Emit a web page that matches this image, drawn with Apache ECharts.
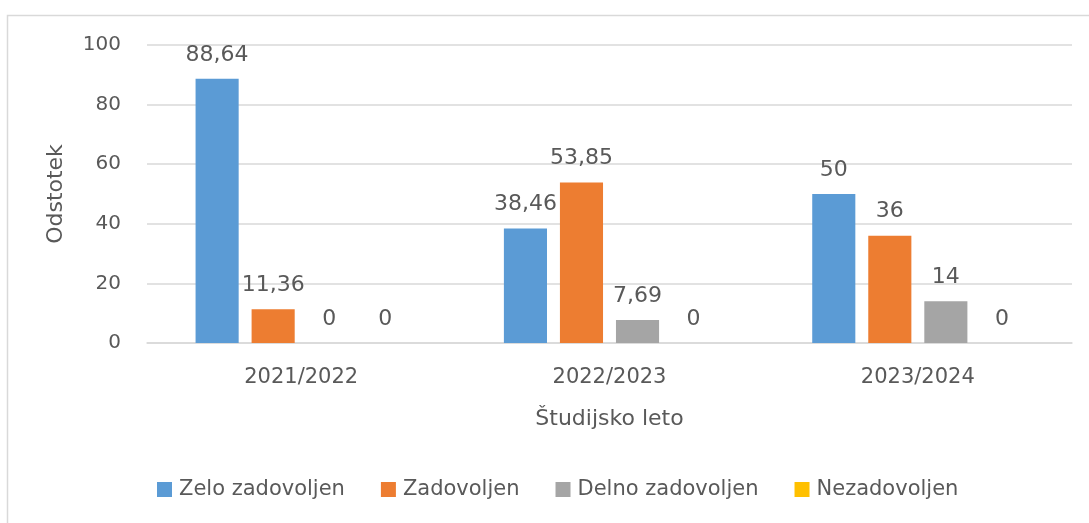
<!DOCTYPE html>
<html><head><meta charset="utf-8">
<script src="https://cdn.jsdelivr.net/npm/echarts@6/dist/echarts.min.js"></script>
<style>html,body{margin:0;padding:0;background:#fff}#c{width:1089px;height:523px}</style>
</head><body><div id="c"></div>
<script>
const categories = ['2021/2022', '2022/2023', '2023/2024'];
const seriesNames = ['Zelo zadovoljen', 'Zadovoljen', 'Delno zadovoljen', 'Nezadovoljen'];
const zeloZadovoljen = [88.64, 38.46, 50];
const zadovoljen = [11.36, 53.85, 36];
const delnoZadovoljen = [0, 7.69, 14];
const nezadovoljen = [0, 0, 0];
const yTicks = [0, 20, 40, 60, 80, 100];

const colors = ['#5B9BD5', '#ED7D31', '#A5A5A5', '#FFC000'];
const FONT = 'DejaVu Sans';
const TXT = '#595959';
const values = [zeloZadovoljen, zadovoljen, delnoZadovoljen, nezadovoljen];

const chart = echarts.init(document.getElementById('c'));
chart.setOption({
  animation: false,
  textStyle: { fontFamily: FONT },
  graphic: [{
    type: 'rect', shape: { x: 7.5, y: 15.5, width: 1200, height: 600 },
    style: { fill: 'none', stroke: '#d9d9d9', lineWidth: 1.5 }, z: -1
  }],
  grid: { left: 147, right: 17, top: 45, bottom: 180 },
  legend: {
    bottom: 18, left: 152, itemWidth: 15, itemHeight: 15, itemGap: 36,
    icon: 'rect',
    textStyle: { color: TXT, fontSize: 21, fontFamily: FONT, padding: [0, 0, 0, 2] },
    data: seriesNames
  },
  xAxis: {
    type: 'category', data: categories,
    name: 'Študijsko leto', nameLocation: 'middle', nameGap: 65,
    nameTextStyle: { color: TXT, fontSize: 22, fontFamily: FONT },
    axisLine: { lineStyle: { color: '#d9d9d9', width: 1.5 } },
    axisTick: { show: false },
    axisLabel: { color: TXT, fontSize: 21, margin: 24, fontFamily: FONT }
  },
  yAxis: {
    type: 'value', min: 0, max: 100, interval: 20,
    name: 'Odstotek', nameLocation: 'middle', nameGap: 80, nameRotate: 90,
    nameTextStyle: { color: TXT, fontSize: 22, fontFamily: FONT },
    axisLine: { show: false }, axisTick: { show: false },
    splitLine: { lineStyle: { color: '#d9d9d9', width: 1.5 } },
    axisLabel: { color: TXT, fontSize: 20, margin: 26, fontFamily: FONT,
      formatter: v => yTicks.includes(v) ? String(v) : '' }
  },
  series: seriesNames.map((n, i) => ({
    name: n, type: 'bar', data: values[i],
    barGap: '30%', barCategoryGap: '31.5%',
    itemStyle: { color: colors[i] },
    label: { show: true, position: 'top', distance: 13, color: TXT, fontSize: 22, fontFamily: FONT,
      formatter: p => String(p.value).replace('.', ',') }
  }))
});
</script></body></html>
